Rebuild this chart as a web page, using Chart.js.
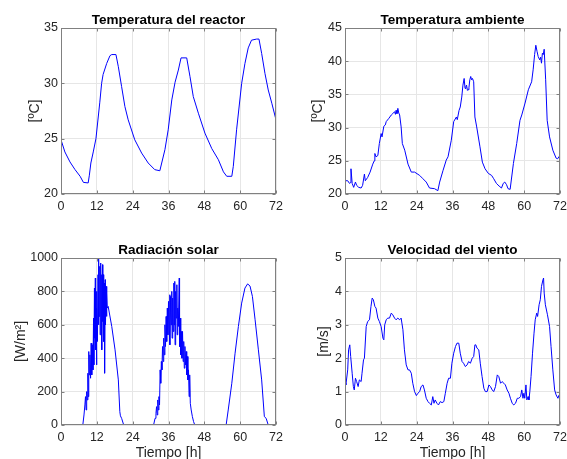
<!DOCTYPE html>
<html>
<head>
<meta charset="utf-8">
<script src="https://cdn.jsdelivr.net/npm/chart.js@4.4.0/dist/chart.umd.min.js"></script>
<style>
  body { margin: 0; background: #fff; overflow: hidden; width: 567px; height: 459px; position: relative; }
  canvas { position: absolute; }
</style>
</head>
<body>
<canvas id="reactor" width="283" height="229" style="left:0;top:0"></canvas>
<canvas id="ambient" width="284" height="229" style="left:283px;top:0"></canvas>
<canvas id="solar" width="283" height="240" style="left:0;top:230px"></canvas>
<canvas id="wind" width="284" height="240" style="left:283px;top:230px"></canvas>
<script>
// tick labels
const xTicks = [0, 12, 24, 36, 48, 60, 72];
const reactorTicks = [20, 25, 30, 35];
const ambientTicks = [20, 25, 30, 35, 40, 45];
const solarTicks = [0, 200, 400, 600, 800, 1000];
const windTicks = [0, 1, 2, 3, 4, 5];

// Temperatura del reactor [ºC]
const tReactor = [0, 1.3, 3, 4.7, 6.4, 7.5, 9.1, 9.5, 10, 10.8, 11.7, 13, 13.6, 14.1, 15.3, 16.4, 17, 18.4, 19.2, 20.3, 21.4, 22.5, 24.7, 27, 29.2, 31.4, 33.1, 34.8, 35.9, 37.1, 38.2, 39.3, 40.2, 42.1, 43.2, 44.3, 46, 48.2, 50.5, 52.7, 54.4, 55.5, 57.2, 57.7, 58.8, 60.5, 61.6, 62.7, 63.8, 65.5, 66.3, 67.2, 68.3, 69.4, 70.6, 72];
const reactorTemp = [24.9, 23.8, 22.9, 22.2, 21.6, 21.05, 21.0, 21.7, 22.8, 23.8, 25.0, 28.3, 30.0, 30.8, 31.8, 32.5, 32.6, 32.6, 31.5, 29.7, 27.9, 26.7, 24.9, 23.7, 22.8, 22.2, 22.1, 24.0, 25.8, 28.5, 30.1, 31.2, 32.3, 32.3, 30.6, 28.8, 27.3, 25.5, 24.1, 23.1, 22.0, 21.6, 21.6, 22.5, 25.8, 30.0, 31.8, 33.2, 33.9, 34.0, 34.0, 32.7, 30.9, 29.4, 28.2, 26.7];

// Temperatura ambiente [ºC]
const tAmbient = [0, 0.9, 1.5, 1.8, 2.0, 2.4, 2.9, 3.5, 3.9, 4.6, 5.4, 5.9, 6.5, 6.8, 7.6, 8.4, 9.3, 9.8, 10.0, 10.4, 11.0, 11.5, 12.1, 12.4, 13.0, 13.5, 13.8, 14.7, 15.5, 16.0, 16.6, 16.9, 17.1, 17.4, 17.7, 18.0, 18.3, 18.8, 19.2, 20.0, 21.1, 22.2, 23.3, 25.0, 26.1, 27.2, 28.3, 30.0, 31.1, 31.7, 32.8, 33.9, 34.5, 35.6, 36.4, 37.3, 37.6, 38.2, 38.6, 39.1, 39.5, 39.9, 40.2, 40.5, 40.7, 41.0, 41.2, 41.5, 41.8, 42.1, 42.4, 42.7, 43.1, 43.5, 44.1, 45.2, 46.0, 46.9, 48.0, 49.1, 49.8, 50.7, 51.6, 52.4, 53.0, 53.5, 54.1, 54.6, 55.3, 56.4, 57.5, 58.6, 59.2, 60.3, 61.4, 62.5, 63.0, 63.5, 63.9, 64.3, 64.7, 65.2, 65.5, 65.8, 66.1, 66.4, 66.7, 67.2, 67.7, 68.5, 69.6, 70.7, 71.2, 71.8, 72];
const ambientTemp = [22.0, 22.0, 21.6, 21.7, 23.8, 21.6, 21.0, 21.8, 21.3, 21.0, 20.9, 21.3, 23.0, 22.0, 22.5, 23.3, 24.5, 25.0, 26.1, 25.6, 25.8, 27.6, 29.1, 28.6, 30.2, 30.4, 30.9, 31.4, 31.9, 32.1, 32.4, 32.0, 32.6, 32.1, 32.9, 32.2, 31.9, 30.1, 27.6, 26.6, 24.5, 23.3, 23.3, 22.8, 22.3, 21.8, 20.9, 20.8, 20.5, 21.8, 23.5, 25.1, 25.6, 28.1, 30.9, 31.6, 31.2, 32.6, 33.1, 34.6, 36.4, 37.4, 35.9, 36.2, 36.4, 35.6, 35.7, 36.0, 37.2, 37.7, 37.2, 37.4, 36.9, 31.6, 30.1, 27.1, 24.8, 23.8, 23.1, 22.8, 22.3, 21.6, 21.2, 20.9, 21.6, 21.8, 21.4, 20.8, 20.7, 24.6, 27.6, 31.1, 31.9, 33.7, 35.7, 36.9, 38.7, 41.0, 42.4, 41.5, 40.7, 40.2, 40.6, 39.7, 41.2, 41.0, 41.8, 37.2, 31.1, 28.6, 26.6, 25.4, 25.3, 25.7, 25.6];

// Radiación solar [W/m2]
const tSolar = [0, 7.3, 7.7, 8.0, 8.2, 8.4, 8.6, 8.8, 9.0, 9.1, 9.3, 9.5, 9.7, 9.9, 10.1, 10.3, 10.5, 10.7, 10.9, 11.0, 11.2, 11.3, 11.5, 11.6, 11.8, 11.9, 12.0, 12.2, 12.4, 12.5, 12.7, 12.8, 13.0, 13.1, 13.3, 13.4, 13.6, 13.7, 13.9, 14.0, 14.2, 14.3, 14.5, 14.6, 14.8, 14.9, 15.1, 15.2, 15.4, 15.5, 15.8, 17.0, 18.1, 19.2, 19.7, 19.9, 20.3, 21.0,
  31.0, 31.5, 31.8, 32.0, 32.2, 32.4, 32.6, 32.8, 33.0, 33.2, 33.4, 33.6, 33.8, 34.0, 34.2, 34.4, 34.6, 34.8, 35.0, 35.2, 35.4, 35.6, 35.8, 36.0, 36.2, 36.4, 36.5, 36.7, 36.9, 37.1, 37.2, 37.4, 37.6, 37.8, 37.9, 38.1, 38.2, 38.4, 38.6, 38.8, 38.9, 39.1, 39.3, 39.6, 39.7, 39.9, 40.1, 40.3, 40.5, 40.7, 40.9, 41.1, 41.3, 41.5, 41.7, 41.9, 42.1, 42.3, 42.5, 42.7, 42.9, 43.1, 43.3, 43.6, 44.0, 44.4, 44.8,
  55.3, 56.0, 57.2, 58.3, 59.4, 60.5, 61.6, 62.5, 63.3, 64.1, 65.0, 66.1, 67.2, 68.1, 68.7, 69.4, 72];
const solarRad = [0, 0, 60, 120, 170, 90, 200, 150, 310, 170, 440, 300, 420, 280, 490, 300, 480, 330, 640, 360, 820, 520, 880, 450, 700, 360, 800, 500, 900, 600, 1000, 650, 950, 540, 970, 700, 900, 450, 960, 620, 900, 500, 850, 310, 870, 600, 830, 650, 790, 700, 710, 590, 450, 270, 80, 55, 40, 0,
  0, 40, 70, 110, 60, 150, 90, 170, 120, 330, 250, 380, 330, 470, 380, 520, 420, 600, 470, 650, 500, 700, 540, 740, 580, 780, 480, 770, 600, 800, 520, 760, 560, 850, 600, 860, 480, 800, 640, 840, 540, 700, 590, 880, 470, 640, 420, 560, 400, 560, 380, 500, 340, 470, 360, 440, 300, 410, 270, 330, 170, 300, 130, 90, 50, 20, 0,
  0, 90, 250, 430, 590, 730, 820, 845, 832, 770, 630, 450, 270, 50, 40, 0, 0];

// Velocidad del viento [m/s]
const tWind = [0, 0.3, 0.9, 1.2, 1.6, 1.9, 2.4, 2.8, 3.1, 3.5, 3.9, 4.4, 4.8, 5.4, 5.7, 6.2, 6.5, 7.1, 7.6, 8.2, 8.7, 9.1, 9.5, 10.0, 10.4, 11.0, 11.5, 12.1, 12.7, 13.0, 13.3, 13.8, 14.3, 14.9, 15.5, 16.0, 16.6, 17.1, 17.7, 18.3, 18.8, 19.4, 19.9, 20.5, 21.1, 21.6, 22.2, 22.7, 23.3, 23.9, 24.4, 25.0, 25.5, 26.1, 26.6, 27.2, 27.8, 28.3, 28.9, 29.4, 29.8, 30.2, 30.8, 31.3, 31.9, 32.5, 33.1, 33.6, 34.2, 34.7, 35.3, 35.8, 36.4, 37.0, 37.5, 38.1, 38.6, 39.2, 39.7, 40.3, 40.9, 41.4, 42.0, 42.6, 43.1, 43.5, 43.8, 44.2, 44.8, 45.3, 45.9, 46.5, 47.0, 47.6, 48.2, 48.7, 49.3, 49.8, 50.4, 51.0, 51.5, 52.1, 52.6, 53.2, 53.7, 54.3, 54.9, 55.4, 56.0, 56.5, 57.1, 57.7, 58.2, 58.8, 59.2, 59.6, 59.9, 60.2, 60.6, 60.9, 61.3, 61.6, 61.9, 62.3, 62.8, 63.3, 63.7, 64.2, 64.5, 65.0, 65.4, 65.8, 66.3, 66.5, 66.7, 67.1, 67.8, 68.5, 69.0, 69.6, 70.2, 70.7, 71.3, 71.7, 72];
const windSpeed = [1.25, 1.2, 1.65, 2.25, 2.4, 2.05, 1.55, 1.15, 1.05, 1.4, 1.3, 1.15, 1.35, 1.3, 1.55, 1.95, 2.0, 2.95, 3.1, 3.15, 3.55, 3.8, 3.75, 3.55, 3.5, 3.2, 3.1, 2.95, 2.6, 2.55, 3.0, 3.15, 3.2, 3.2, 3.35, 3.3, 3.2, 3.15, 3.2, 3.15, 3.2, 2.85, 2.25, 1.8, 1.65, 1.65, 1.55, 1.25, 1.0, 0.88, 0.95, 1.0, 1.15, 1.2, 1.05, 0.8, 0.7, 0.65, 0.6, 0.85, 0.65, 0.75, 0.65, 0.6, 0.7, 0.67, 0.7, 0.95, 1.25, 1.4, 1.4, 1.85, 2.15, 2.35, 2.45, 2.45, 2.15, 1.9, 1.85, 1.75, 1.8, 1.9, 1.85, 2.0, 2.05, 2.4, 2.4, 2.3, 2.25, 1.85, 1.45, 1.1, 1.0, 1.0, 1.2, 1.15, 1.05, 1.0, 1.15, 1.5, 1.45, 1.25, 1.3, 1.25, 1.2, 1.05, 0.95, 0.8, 0.65, 0.6, 0.65, 0.8, 0.8, 0.85, 1.05, 0.8, 0.95, 0.8, 1.2, 0.75, 0.85, 0.75, 1.0, 1.45, 2.15, 2.75, 3.15, 3.35, 3.25, 3.6, 3.75, 4.15, 4.35, 4.4, 3.95, 3.6, 3.3, 2.95, 2.35, 1.65, 1.05, 0.9, 0.8, 0.9, 0.9];

const FONT = "'Liberation Sans', Arial, sans-serif";

// box with inward ticks, like MATLAB axes
const boxPlugin = {
  id: "axesBox",
  afterDatasetsDraw(chart) {
    const { ctx, chartArea: a, scales } = chart;
    const L = Math.round(a.left) + 0.5, R = Math.round(a.right) - 0.5;
    const T = Math.round(a.top) + 0.5, B = Math.round(a.bottom) - 0.5;
    ctx.save();
    ctx.strokeStyle = "#808080";
    ctx.lineWidth = 1;
    ctx.beginPath();
    scales.x.ticks.forEach((tk) => {
      const px = Math.round(scales.x.getPixelForValue(tk.value)) + 0.5;
      ctx.moveTo(px, B); ctx.lineTo(px, B - 3);
      ctx.moveTo(px, T); ctx.lineTo(px, T + 3);
    });
    scales.y.ticks.forEach((tk) => {
      const py = Math.round(scales.y.getPixelForValue(tk.value)) + 0.5;
      ctx.moveTo(L, py); ctx.lineTo(L + 3, py);
      ctx.moveTo(R, py); ctx.lineTo(R - 3, py);
    });
    ctx.stroke();
    ctx.strokeRect(L, T, R - L, B - T);
    ctx.restore();
  },
};

function makeChart(id, title, t, v, yTicks, yLabel, cfg) {
  return new Chart(document.getElementById(id), {
    type: "line",
    data: {
      datasets: [
        {
          data: t.map((x, i) => ({ x: x, y: v[i] })),
          borderColor: "#0000ff",
          borderWidth: 1,
          pointRadius: 0,
          tension: 0,
          fill: false,
        },
      ],
    },
    options: {
      responsive: false,
      animation: false,
      events: [],
      layout: { padding: { left: 0, right: cfg.padRight, top: 0, bottom: 0 } },
      plugins: {
        legend: { display: false },
        tooltip: { enabled: false },
        title: {
          display: true,
          text: title,
          fullSize: false,
          color: "#000",
          font: { family: FONT, size: 13.5, weight: "bold", lineHeight: 1.2 },
          padding: { top: 11.8, bottom: 0 },
        },
      },
      scales: {
        x: {
          type: "linear",
          min: 0,
          max: 72,
          afterBuildTicks: (s) => { s.ticks = xTicks.map((val) => ({ value: val })); },
          afterFit: (s) => { s.height = cfg.xHeight; s.paddingLeft = 0; s.paddingRight = 0; },
          grid: { color: "#e6e6e6", drawTicks: false },
          border: { display: false },
          ticks: { color: "#262626", padding: 5, maxRotation: 0, font: { family: FONT, size: 12.5 }, callback: (val) => String(val) },
          title: {
            display: !!cfg.xLabel,
            text: cfg.xLabel,
            color: "#262626",
            font: { family: FONT, size: 14 },
            padding: { top: 0, bottom: 8.6 },
          },
        },
        y: {
          min: yTicks[0],
          max: yTicks[yTicks.length - 1],
          afterBuildTicks: (s) => { s.ticks = yTicks.map((val) => ({ value: val })); },
          afterFit: (s) => { s.width = cfg.yWidth; s.paddingTop = 0; s.paddingBottom = 0; },
          grid: { color: "#e6e6e6", drawTicks: false },
          border: { display: false },
          ticks: { color: "#262626", padding: 3, font: { family: FONT, size: 12.5 }, callback: (val) => String(val) },
          title: {
            display: true,
            text: yLabel,
            color: "#262626",
            font: { family: FONT, size: 14 },
            padding: { top: cfg.yTitlePad, bottom: 0 },
          },
        },
      },
    },
    plugins: [boxPlugin],
  });
}

makeChart("reactor", "Temperatura del reactor", tReactor, reactorTemp, reactorTicks, "[ºC]",
  { yWidth: 61, padRight: 7, xHeight: 35, yTitlePad: 26.6 });
makeChart("ambient", "Temperatura ambiente", tAmbient, ambientTemp, ambientTicks, "[ºC]",
  { yWidth: 62, padRight: 7, xHeight: 35, yTitlePad: 26.6 });
makeChart("solar", "Radiación solar", tSolar, solarRad, solarTicks, "[W/m²]",
  { yWidth: 61, padRight: 7, xHeight: 45, yTitlePad: 12.6, xLabel: "Tiempo [h]" });
makeChart("wind", "Velocidad del viento", tWind, windSpeed, windTicks, "[m/s]",
  { yWidth: 62, padRight: 7, xHeight: 45, yTitlePad: 32.6, xLabel: "Tiempo [h]" });
</script>
</body>
</html>
